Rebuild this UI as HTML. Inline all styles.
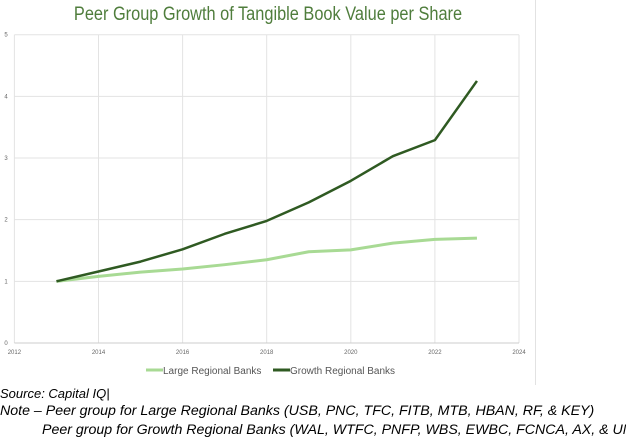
<!DOCTYPE html>
<html><head><meta charset="utf-8"><style>
body{margin:0;width:626px;height:441px;background:#fff;overflow:hidden;font-family:"Liberation Sans",sans-serif;position:relative}
.t{position:absolute;white-space:nowrap}
.note{font-style:italic;font-size:14.2px;color:#000}
</style></head><body>
<div class="t" style="left:0;width:536px;text-align:center;top:4px;font-size:19px;color:#4f7d3c;transform:scaleX(0.86);transform-origin:268px 0">Peer Group Growth of Tangible Book Value per Share</div>
<div style="position:absolute;left:535px;top:0;width:1px;height:385px;background:#e2e2e2"></div>
<svg id="c" width="626" height="385" style="position:absolute;left:0;top:0"></svg>
<div class="t note" style="left:0;top:386px;font-size:13px">Source: Capital IQ|</div>
<div class="t note" style="left:0;top:403px">Note – Peer group for Large Regional Banks (USB, PNC, TFC, FITB, MTB, HBAN, RF, &amp; KEY)</div>
<div class="t note" style="left:42px;top:422px">Peer group for Growth Regional Banks (WAL, WTFC, PNFP, WBS, EWBC, FCNCA, AX, &amp; UMBF)</div>
<script>
const years=[2013,2014,2015,2016,2017,2018,2019,2020,2021,2022,2023];
const largeVals=[1.0,1.08,1.15,1.2,1.27,1.35,1.48,1.51,1.62,1.68,1.70];
const growthVals=[1.0,1.16,1.32,1.52,1.77,1.98,2.28,2.63,3.03,3.29,4.25];
const xTicks=[2012,2014,2016,2018,2020,2022,2024];
const yTicks=[0,1,2,3,4,5];
const NS="http://www.w3.org/2000/svg",svg=document.getElementById('c');
const x=v=>14.4+(v-2012)/12*(519-14.4);
const y=v=>343-v/5*(343-34.7);
function mk(t,a){const e=document.createElementNS(NS,t);for(const k in a)e.setAttribute(k,a[k]);svg.appendChild(e);return e;}
xTicks.forEach(v=>{const l=mk('line',{x1:x(v),x2:x(v),y1:y(5),y2:y(0),stroke:'#e3e3e3'});


const t=mk('text',{x:x(v),y:354,'font-size':6,'text-anchor':'middle',fill:'#666'});t.textContent=v;

});
yTicks.forEach(v=>{const l=mk('line',{x1:x(2012),x2:x(2024),y1:y(v),y2:y(v),stroke:v==0?'#ccc':'#e3e3e3'});


const t=mk('text',{x:6,y:y(v)+2,'font-size':6,'text-anchor':'middle',fill:'#666'});t.textContent=v;

});
function series(vals,col,w,name){const p=mk('polyline',{points:years.map((yr,i)=>x(yr)+','+y(vals[i])).join(' '),fill:'none',stroke:col,'stroke-width':w,'stroke-linejoin':'round'});

}
series(largeVals,'#a8da94',3,'large-regional-banks-line');
series(growthVals,'#2f5a22',2.5,'growth-regional-banks-line');
function leg(lx,col,label,name){const g=mk('g',{});


const l=document.createElementNS(NS,'line');l.setAttribute('x1',lx);l.setAttribute('x2',lx+17);l.setAttribute('y1',370);l.setAttribute('y2',370);l.setAttribute('stroke',col);l.setAttribute('stroke-width',3);g.appendChild(l);
const t=document.createElementNS(NS,'text');t.setAttribute('x',lx+17);t.setAttribute('y',374);t.setAttribute('font-size',10);t.setAttribute('fill','#555');t.textContent=label;g.appendChild(t);}
leg(146,'#a8da94','Large Regional Banks','legend-large-regional');
leg(273,'#2f5a22','Growth Regional Banks','legend-growth-regional');
</script>
</body></html>
